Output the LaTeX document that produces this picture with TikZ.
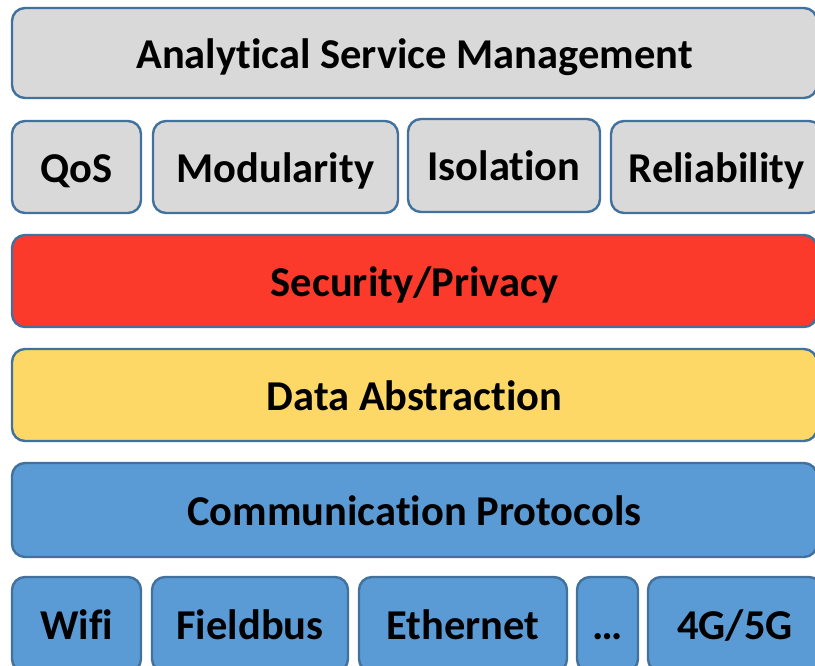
\documentclass[tikz,border=0pt]{standalone}
\usepackage{fontspec}
\setmainfont{Carlito}[Ligatures=NoCommon]
\definecolor{edge}{HTML}{41719C}
\definecolor{greyfill}{HTML}{D9D9D9}
\definecolor{redfill}{HTML}{FC3A2B}
\definecolor{yellowfill}{HTML}{FDD866}
\definecolor{bluefill}{HTML}{5B9BD5}
\tikzset{
  layer/.style={draw=edge, line width=2.4pt, rounded corners=13pt,
    inner sep=0pt, outer sep=0pt, anchor=north west,
    font=\fontsize{42.5}{46}\selectfont\bfseries,
    text height=30pt, text depth=0pt, align=center},
  grey/.style={layer, fill=greyfill},
  red/.style={layer, fill=redfill},
  yellow/.style={layer, fill=yellowfill},
  blue/.style={layer, fill=bluefill},
}
% place a box by its corner, width and height (all in px-sized points)
\newcommand{\layerbox}[7]{%
  \node[#1, minimum width=#5pt, minimum height=#6pt] (#2) at (#3,#4) {#7};}
\begin{document}
\begin{tikzpicture}[x=1pt,y=-1pt]
\path[use as bounding box] (0,0) rectangle (815,665);
\clip (0,0) rectangle (815,665);
% top service layer
\layerbox{grey}{asm}{12}{8}{805}{90}{Analytical Service Management}
% service properties
\layerbox{grey}{qos}{12}{121}{129}{92}{QoS}
\layerbox{grey}{mod}{153}{121}{245}{92}{Modularity}
\layerbox{grey}{iso}{408}{119}{192}{93}{Isolation}
\layerbox{grey}{rel}{611}{121}{211}{92}{Reliability}
% cross-cutting layers
\layerbox{red}{sec}{12}{235}{805}{92}{Security/Privacy}
\layerbox{yellow}{data}{12}{349}{805}{92}{Data Abstraction}
\layerbox{blue}{comm}{12}{463}{805}{94}{Communication Protocols}
% physical links
\layerbox{blue}{wifi}{12}{577}{129}{95}{Wifi}
\layerbox{blue}{field}{152}{577}{196}{95}{Fieldbus}
\layerbox{blue}{eth}{359}{577}{208}{95}{Ethernet}
\layerbox{blue}{dots}{577}{577}{61}{95}{\ldots}
\layerbox{blue}{gfive}{648}{577}{174}{95}{4G/5G}
\end{tikzpicture}
\end{document}
